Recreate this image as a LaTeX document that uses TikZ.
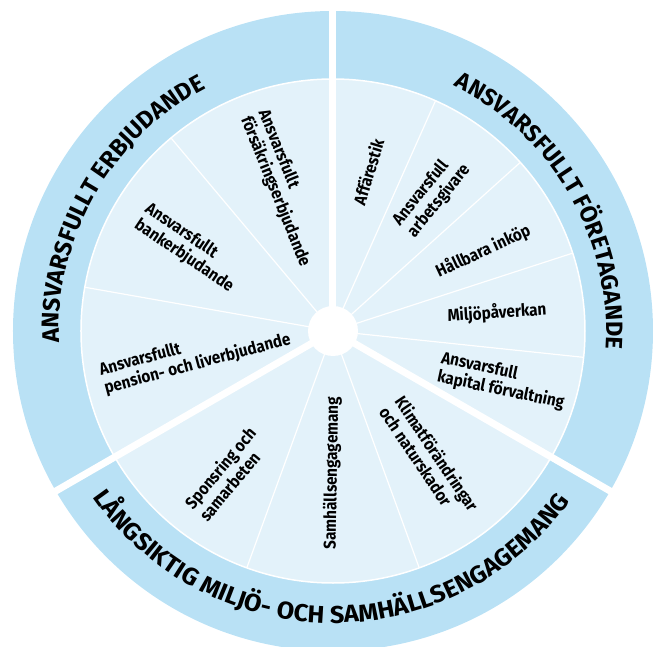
\documentclass[tikz,border=0pt]{standalone}
\usepackage{fontspec}
\setmainfont{Fira Sans}
\newfontfamily\lblfont[FakeStretch=0.9]{Fira Sans}
\newfontfamily\ringfont{Fira Sans}
\newfontfamily\ringfontwide[FakeStretch=1.04]{Fira Sans}
\usetikzlibrary{decorations.text}
\definecolor{ringblue}{RGB}{185,225,245}
\definecolor{panelblue}{RGB}{227,242,250}
\begin{document}
\begin{tikzpicture}[x=1pt,y=1pt,
  lbl/.style={font=\lblfont\bfseries\fontsize{17}{19}\selectfont, align=left, inner sep=0pt, text=black},
  sepline/.style={draw=white, line width=1.2pt},
  gapline/.style={draw=white, line width=7pt},
  ringtext/.style={decorate, decoration={text along path, text align=center, text={#1}}}]
\useasboundingbox (-333,-315) rectangle (329,331);
\coordinate (c) at (0,0);
\fill[ringblue] (c) circle[radius=320];
\fill[panelblue] (c) circle[radius=252];
\draw[white, line width=1.5pt] (c) circle[radius=252];
% thin separators
\foreach \a in {66,42,18,-6,130,170,250,290}
  \draw[sepline] (c) -- (\a:252);
% thick gaps
\foreach \a in {90,210,330}
  \draw[gapline] (c) -- (\a:326);
% hub
\fill[white] (c) circle[radius=25];
% ring texts
\path[ringtext={|\ringfont\bfseries\fontsize{23.6}{24}\selectfont|ANSVARSFULLT FÖRETAGANDE}]
  (74:273) arc[start angle=74, end angle=-14, radius=273];
\path[ringtext={|\ringfont\bfseries\fontsize{24}{24}\selectfont|ANSVARSFULLT ERBJUDANDE}]
  (195:274) arc[start angle=195, end angle=105, radius=274];
\path[ringtext={|\ringfontwide\bfseries\fontsize{24.3}{24}\selectfont|LÅNGSIKTIG MILJÖ- OCH SAMHÄLLSENGAGEMANG}]
  (199.5:292) arc[start angle=199.5, end angle=339.5, radius=292];
% inner labels
\node[lbl, rotate=73] (l1) at (77.5:163) {Affärestik};
\node[lbl, rotate=51] (l2) at (54:168) {Ansvarsfull\\arbetsgivare};
\node[lbl, rotate=25] (l3) at (28:170) {Hållbara inköp};
\node[lbl, rotate=4] (l4) at (6.3:165) {Miljöpåverkan};
\node[lbl, rotate=-12] (l5) at (-16.5:177) {Ansvarsfull\\kapital förvaltning};
\node[lbl, rotate=-56] (l6) at (-53:160) {Klimatförändringar\\och naturskador};
\node[lbl, rotate=89] (l7) at (269.6:142) {Samhällsengagemang};
\node[lbl, rotate=50] (l8) at (233.5:178) {Sponsring och\\samarbeten};
\node[lbl, rotate=15] (l9) at (190:140) {Ansvarsfullt\\pension- och liverbjudande};
\node[lbl, rotate=-34] (l10) at (150:166) {Ansvarsfullt\\bankerbjudande};
\node[lbl, rotate=-68] (l11) at (109:151) {Ansvarsfullt\\försäkringserbjudande};
\end{tikzpicture}
\end{document}
